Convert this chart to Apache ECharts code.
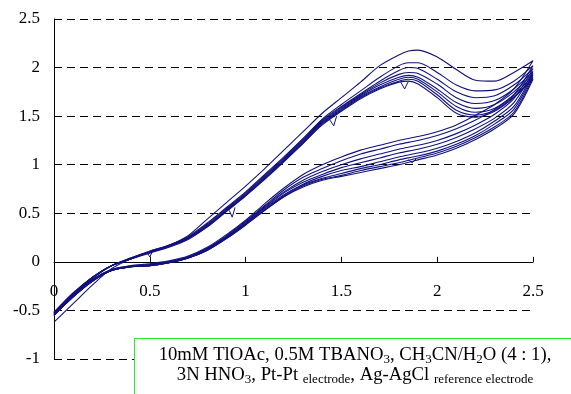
<!DOCTYPE html>
<html>
<head>
<meta charset="utf-8">
<script src="https://cdn.jsdelivr.net/npm/echarts@6/dist/echarts.min.js"></script>
<style>
  html, body { margin: 0; padding: 0; background: #fff; }
  #chart { width: 571px; height: 394px; }
</style>
</head>
<body>
<div id="chart"></div>
<script>
// Potential grid (V) for the anodic sweep and the return sweep
const potentialFwd = [0, 0.1, 0.2, 0.3, 0.4, 0.5, 0.6, 0.7, 0.8, 0.9, 1.0, 1.1, 1.2, 1.3, 1.4, 1.5, 1.6, 1.7, 1.8, 1.85, 1.9, 2.0, 2.1, 2.2, 2.3, 2.4, 2.5];
const potentialRev = [2.5, 2.4, 2.3, 2.2, 2.1, 2.0, 1.9, 1.8, 1.7, 1.6, 1.5, 1.4, 1.3, 1.2, 1.1, 1.0, 0.9, 0.8, 0.7, 0.6, 0.5, 0.4, 0.3, 0.2, 0.1, 0];

// Current on the forward sweep, one array per cycle
const fwd1 = [-0.62, -0.43, -0.24, -0.07, 0.03, 0.10, 0.17, 0.27, 0.44, 0.61, 0.78, 0.96, 1.15, 1.34, 1.53, 1.69, 1.85, 2.02, 2.13, 2.17, 2.18, 2.11, 1.98, 1.87, 1.86, 1.95, 2.07];
const fwd2 = [-0.54, -0.34, -0.17, -0.04, 0.04, 0.11, 0.17, 0.26, 0.40, 0.56, 0.72, 0.90, 1.08, 1.27, 1.47, 1.62, 1.76, 1.90, 2.02, 2.05, 2.05, 1.95, 1.82, 1.76, 1.77, 1.86, 2.02];
const fwd3 = [-0.54, -0.34, -0.17, -0.04, 0.04, 0.11, 0.17, 0.25, 0.39, 0.55, 0.71, 0.89, 1.07, 1.26, 1.46, 1.60, 1.73, 1.86, 1.97, 2.00, 1.99, 1.88, 1.75, 1.69, 1.71, 1.82, 1.99];
const fwd4 = [-0.53, -0.33, -0.16, -0.04, 0.03, 0.10, 0.16, 0.25, 0.38, 0.54, 0.70, 0.88, 1.06, 1.25, 1.45, 1.59, 1.72, 1.84, 1.93, 1.95, 1.94, 1.83, 1.69, 1.63, 1.66, 1.78, 1.96];
const fwd5 = [-0.53, -0.33, -0.16, -0.04, 0.03, 0.10, 0.16, 0.24, 0.37, 0.53, 0.69, 0.87, 1.05, 1.24, 1.44, 1.58, 1.71, 1.82, 1.90, 1.92, 1.90, 1.78, 1.64, 1.58, 1.62, 1.75, 1.94];
const fwd6 = [-0.52, -0.33, -0.16, -0.04, 0.03, 0.10, 0.16, 0.24, 0.37, 0.53, 0.69, 0.86, 1.04, 1.23, 1.43, 1.57, 1.70, 1.80, 1.88, 1.90, 1.88, 1.75, 1.60, 1.54, 1.58, 1.72, 1.92];
const fwd7 = [-0.52, -0.32, -0.16, -0.04, 0.03, 0.10, 0.16, 0.24, 0.36, 0.52, 0.68, 0.86, 1.04, 1.22, 1.42, 1.56, 1.69, 1.79, 1.86, 1.88, 1.86, 1.72, 1.56, 1.51, 1.56, 1.70, 1.90];
const fwd8 = [-0.52, -0.32, -0.16, -0.04, 0.03, 0.09, 0.15, 0.23, 0.36, 0.52, 0.68, 0.85, 1.03, 1.22, 1.41, 1.55, 1.68, 1.78, 1.85, 1.86, 1.83, 1.69, 1.53, 1.49, 1.55, 1.69, 1.88];

// Current on the return sweep, one array per cycle
const rev1 = [2.07, 1.78, 1.62, 1.51, 1.41, 1.34, 1.29, 1.25, 1.20, 1.15, 1.08, 1.00, 0.90, 0.76, 0.60, 0.43, 0.28, 0.15, 0.06, 0.01, -0.02, -0.04, -0.08, -0.18, -0.34, -0.52];
const rev2 = [2.02, 1.72, 1.57, 1.46, 1.37, 1.30, 1.25, 1.21, 1.16, 1.11, 1.04, 0.96, 0.87, 0.74, 0.58, 0.42, 0.27, 0.14, 0.05, 0.00, -0.03, -0.04, -0.08, -0.19, -0.35, -0.53];
const rev3 = [1.99, 1.68, 1.52, 1.41, 1.32, 1.25, 1.20, 1.16, 1.11, 1.06, 1.00, 0.93, 0.84, 0.72, 0.57, 0.41, 0.26, 0.14, 0.05, 0.00, -0.03, -0.05, -0.09, -0.19, -0.35, -0.54];
const rev4 = [1.96, 1.64, 1.48, 1.37, 1.28, 1.21, 1.16, 1.12, 1.07, 1.02, 0.97, 0.90, 0.82, 0.71, 0.56, 0.40, 0.26, 0.13, 0.05, 0.00, -0.03, -0.05, -0.09, -0.19, -0.35, -0.54];
const rev5 = [1.94, 1.60, 1.45, 1.33, 1.24, 1.17, 1.12, 1.08, 1.03, 0.98, 0.94, 0.88, 0.80, 0.69, 0.55, 0.39, 0.25, 0.13, 0.04, -0.01, -0.04, -0.05, -0.09, -0.20, -0.36, -0.55];
const rev6 = [1.92, 1.57, 1.42, 1.30, 1.21, 1.14, 1.09, 1.05, 1.00, 0.96, 0.91, 0.86, 0.79, 0.68, 0.54, 0.39, 0.25, 0.12, 0.04, -0.01, -0.04, -0.05, -0.09, -0.20, -0.36, -0.55];
const rev7 = [1.90, 1.54, 1.39, 1.28, 1.19, 1.12, 1.07, 1.02, 0.98, 0.94, 0.89, 0.85, 0.78, 0.67, 0.53, 0.38, 0.24, 0.12, 0.04, -0.01, -0.04, -0.05, -0.09, -0.20, -0.36, -0.55];
const rev8 = [1.88, 1.52, 1.37, 1.26, 1.17, 1.10, 1.05, 1.00, 0.96, 0.92, 0.88, 0.84, 0.77, 0.67, 0.53, 0.38, 0.24, 0.12, 0.04, -0.01, -0.04, -0.05, -0.09, -0.20, -0.36, -0.55];

// Short spikes recorded on single sweeps, as [potential, current]
const spikeA = [[0.485, 0.10], [0.50, 0.05], [0.515, 0.11]];
const spikeB = [[0.915, 0.53], [0.93, 0.46], [0.945, 0.56]];
const spikeC = [[1.44, 1.46], [1.46, 1.40], [1.475, 1.50]];
const spikeD = [[1.81, 1.85], [1.83, 1.78], [1.85, 1.86]];
const spikeE = [[1.85, 1.05], [1.87, 1.02], [1.89, 1.06]];

// Axis ticks
const xTicks = { min: 0, max: 2.5, step: 0.5 };
const yTicks = { min: -1, max: 2.5, step: 0.5 };

const forwardSweeps = [fwd1, fwd2, fwd3, fwd4, fwd5, fwd6, fwd7, fwd8];
const returnSweeps = [rev1, rev2, rev3, rev4, rev5, rev6, rev7, rev8];
const spikes = [spikeA, spikeB, spikeC, spikeD, spikeE];

const LINE = '#12127f';
const FONT = "'Liberation Serif', 'Times New Roman', serif";

// plot box
const GRID = { left: 54, right: 38, top: 19, bottom: 35 };
const PLOT_H = 394 - GRID.top - GRID.bottom;
// shift the potential axis up so that it sits on the zero-current line
const zeroShift = -PLOT_H * (0 - yTicks.min) / (yTicks.max - yTicks.min);

const series = forwardSweeps.map((f, i) => ({
  type: 'line',
  name: 'cycle ' + (i + 1),
  data: potentialFwd.map((x, j) => [x, f[j]])
        .concat(returnSweeps[i].map((y, j) => [potentialRev[j], y])),
  showSymbol: false,
  smooth: 0.3,
  lineStyle: { color: LINE, width: 1.1 },
  silent: true
})).concat(spikes.map((s, k) => ({
  type: 'line',
  name: 'spike ' + (k + 1),
  data: s,
  showSymbol: false,
  lineStyle: { color: LINE, width: 1 },
  silent: true
})));

const chart = echarts.init(document.getElementById('chart'), null, { renderer: 'canvas' });
chart.setOption({
  animation: false,
  backgroundColor: '#ffffff',
  textStyle: { fontFamily: FONT },
  grid: { left: GRID.left, right: GRID.right, top: GRID.top, bottom: GRID.bottom, containLabel: false },
  xAxis: {
    type: 'value',
    min: xTicks.min, max: xTicks.max, interval: xTicks.step,
    offset: zeroShift,
    axisLine: { onZero: false, lineStyle: { color: '#000', width: 1 } },
    axisTick: { inside: true, length: 5, lineStyle: { color: '#000' } },
    axisLabel: { color: '#000', fontFamily: FONT, fontSize: 17, margin: 21 },
    splitLine: { show: false }
  },
  yAxis: {
    type: 'value',
    min: yTicks.min, max: yTicks.max, interval: yTicks.step,
    axisLine: { show: true, onZero: false, lineStyle: { color: '#000', width: 1 } },
    axisTick: { show: false },
    axisLabel: { color: '#000', fontFamily: FONT, fontSize: 17, margin: 14 },
    splitLine: { show: true, lineStyle: { color: '#000', type: [8, 5], width: 1 } }
  },
  series: series,
  graphic: [
    {
      type: 'rect',
      left: 134, top: 338,
      shape: { width: 460, height: 80 },
      style: { fill: '#ffffff', stroke: '#22ee22', lineWidth: 1 },
      z: 100
    },
    {
      type: 'text',
      x: 355, y: 345,
      z: 101,
      style: {
        text: '{m|10mM TlOAc, 0.5M TBANO}{s|3}{m|, CH}{s|3}{m|CN/H}{s|2}{m|O (4 : 1),}\n' +
              '{m|3N HNO}{s|3}{m|, Pt-Pt }{s|electrode}{m|, Ag-AgCl }{s|reference electrode}',
        align: 'center',
        textAlign: 'center',
        verticalAlign: 'top',
        fill: '#000',
        rich: {
          m: { fontFamily: FONT, fontSize: 18.7, lineHeight: 20, fill: '#000', color: '#000' },
          s: { fontFamily: FONT, fontSize: 13, lineHeight: 20, padding: [9, 0, 0, 0], fill: '#000', color: '#000' }
        }
      }
    }
  ]
});
</script>
</body>
</html>
